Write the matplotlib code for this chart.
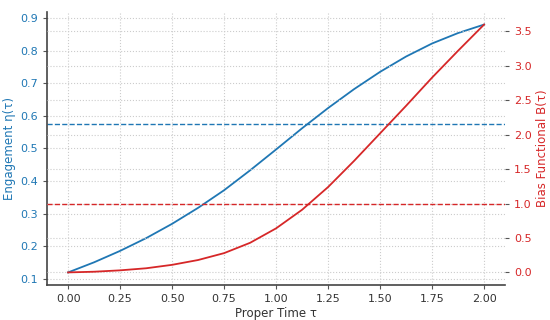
import matplotlib
matplotlib.use("Agg")
import matplotlib.pyplot as plt
import numpy as np

# proper time samples and the two curves
tau = [0.0, 0.125, 0.25, 0.375, 0.5, 0.625, 0.75, 0.875, 1.0,
       1.125, 1.25, 1.375, 1.5, 1.625, 1.75, 1.875, 2.0]
eta = [0.120, 0.151, 0.186, 0.225, 0.269, 0.318, 0.372, 0.433, 0.497,
       0.562, 0.624, 0.682, 0.735, 0.782, 0.822, 0.854, 0.880]
bias = [0.0, 0.01, 0.03, 0.06, 0.11, 0.18, 0.28, 0.43, 0.64,
        0.91, 1.24, 1.62, 2.02, 2.42, 2.83, 3.22, 3.60]
eta_ref = 0.575
bias_ref = 1.0

c_eta = 'tab:blue'
c_bias = 'tab:red'

fig, ax1 = plt.subplots(figsize=(5.5, 3.2), dpi=100)
fig.subplots_adjust(left=0.086, right=0.918, bottom=0.11, top=0.962)

ax1.plot(tau, eta, color=c_eta, lw=1.3)
ax1.axhline(eta_ref, color=c_eta, ls='--', lw=1)
ax1.set_xlabel('Proper Time τ', fontsize=8.5, color='#333333', labelpad=2)
ax1.set_ylabel('Engagement η(τ)', fontsize=8.5, color=c_eta, labelpad=3)
ax1.tick_params(axis='y', labelcolor=c_eta, labelsize=8, length=3, color='#555555')
ax1.tick_params(axis='x', labelsize=8, labelcolor='#333333', length=3, color='#555555')
ax1.set_xticks(np.arange(0, 2.01, 0.25))
ax1.set_yticks(np.arange(0.1, 0.91, 0.1))
ax1.grid(True, ls=':', color='#cccccc', lw=0.8)

ax2 = ax1.twinx()
ax2.plot(tau, bias, color=c_bias, lw=1.3)
ax2.axhline(bias_ref, color=c_bias, ls='--', lw=1)
ax2.set_ylabel('Bias Functional B(τ)', fontsize=8.5, color=c_bias, labelpad=3)
ax2.tick_params(axis='y', labelcolor=c_bias, labelsize=8, length=3, color='#555555')
ax2.set_yticks(np.arange(0, 3.51, 0.5))
ax2.grid(True, ls=':', color='#cccccc', lw=0.8)

for a in (ax1, ax2):
    a.spines['top'].set_visible(False)
    a.spines['right'].set_visible(False)
ax2.spines['left'].set_visible(False)
ax2.spines['bottom'].set_visible(False)
ax1.spines['left'].set_color('#444444')
ax1.spines['bottom'].set_color('#444444')
ax1.spines['left'].set_linewidth(1.2)
ax1.spines['bottom'].set_linewidth(1.2)

plt.savefig('out.png', dpi=100)
